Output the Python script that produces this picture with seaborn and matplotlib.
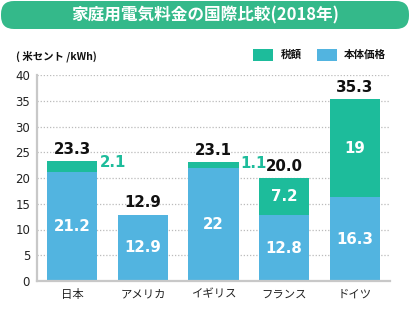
import matplotlib
matplotlib.use("Agg")
import matplotlib.pyplot as plt
import seaborn as sns
import pandas as pd
from matplotlib.patches import FancyBboxPatch, Rectangle
from matplotlib.transforms import IdentityTransform

# ---- data ----
countries = ["日本", "アメリカ", "イギリス", "フランス", "ドイツ"]
base_price = [21.2, 12.9, 22.0, 12.8, 16.3]
tax = [2.1, 0.0, 1.1, 7.2, 19.0]
total_labels = ["23.3", "12.9", "23.1", "20.0", "35.3"]
base_labels = ["21.2", "12.9", "22", "12.8", "16.3"]
tax_labels = ["2.1", "", "1.1", "7.2", "19"]
tax_outside = [True, False, True, False, False]
yticks = [0, 5, 10, 15, 20, 25, 30, 35, 40]
legend_labels = ["税額", "本体価格"]

GREEN = "#1DBC9B"
BLUE = "#52B4E0"
BANNER = "#34B98A"
FONT = ["Noto Sans CJK JP", "DejaVu Sans"]
NUMFONT = ["DejaVu Sans"]

sns.set_theme(style="white")
plt.rcParams["font.family"] = FONT

totals = [b + t for b, t in zip(base_price, tax)]
df = pd.DataFrame({"country": countries, "base": base_price, "total": totals})

fig = plt.figure(figsize=(4.10, 3.22), dpi=100)
W, H = 410, 322
ax = fig.add_axes([37 / W, (H - 281) / H, (390 - 37) / W, (281 - 75) / H])

sns.barplot(data=df, x="country", y="total", color=GREEN, width=0.71,
            saturation=1, ax=ax, edgecolor="none")
sns.barplot(data=df, x="country", y="base", color=BLUE, width=0.71,
            saturation=1, ax=ax, edgecolor="none")

ax.set_ylim(0, 40)
ax.set_xlim(-0.5, 4.5)
ax.set_yticks(yticks)
ax.set_xlabel("")
ax.set_ylabel("")
ax.yaxis.grid(True, linestyle=(0, (1, 1.5)), color="#BBBBBB", linewidth=0.9)
ax.set_axisbelow(True)
for s in ["top", "right"]:
    ax.spines[s].set_visible(False)
for s in ["left", "bottom"]:
    ax.spines[s].set_color("#C8C8C8")
    ax.spines[s].set_linewidth(1.6)
ax.tick_params(axis="y", length=0, pad=5, labelsize=8.5, colors="#222222")
for lab in ax.get_yticklabels():
    lab.set_family(NUMFONT)
ax.tick_params(axis="x", length=0, pad=6, labelsize=8.2, colors="#222222")
ax.set_xticks([0.5, 1.5, 2.5, 3.5, 4.5], minor=True)
ax.tick_params(axis="x", which="minor", direction="in", length=4,
               width=1.2, color="#C8C8C8")

for i in range(len(countries)):
    ax.annotate(total_labels[i], (i, totals[i]), xytext=(0, 3),
                textcoords="offset points", ha="center", va="bottom",
                fontsize=10.8, fontweight="bold", color="#111111",
                family=NUMFONT)
    ax.text(i, base_price[i] / 2, base_labels[i], ha="center", va="center",
            fontsize=10.8, fontweight="bold", color="white", family=NUMFONT)
    if tax_labels[i]:
        if tax_outside[i]:
            ax.annotate(tax_labels[i], (i + 0.355, totals[i] - 0.2),
                        xytext=(1.5, 0), textcoords="offset points",
                        ha="left", va="center", fontsize=10.8,
                        fontweight="bold", color=GREEN, family=NUMFONT)
        else:
            ax.text(i, base_price[i] + tax[i] / 2, tax_labels[i],
                    ha="center", va="center", fontsize=10.8,
                    fontweight="bold", color="white", family=NUMFONT)

# title banner (pill shape, drawn in figure pixels)
banner = FancyBboxPatch((1, H - 29), W - 2, 28,
                        boxstyle="round,pad=0,rounding_size=13",
                        transform=IdentityTransform(), facecolor=BANNER,
                        edgecolor="none")
fig.add_artist(banner)
fig.text(0.5, (H - 15) / H, "家庭用電気料金の国際比較(2018年)", ha="center",
         va="center", color="white", fontsize=12, fontweight="bold")

# unit label
fig.text(16 / W, (H - 56) / H, "( 米セント /kWh)", ha="left", va="center",
         fontsize=7.5, fontweight="bold", color="#111111")

# legend (drawn manually in figure pixels)
for (x0, txt_x), col, lab in zip([(253, 281), (317, 344)], [GREEN, BLUE],
                                 legend_labels):
    fig.add_artist(Rectangle((x0 / W, (H - 61) / H), 20 / W, 12 / H,
                             transform=fig.transFigure, facecolor=col,
                             edgecolor="none"))
    fig.text(txt_x / W, (H - 55) / H, lab, ha="left", va="center",
             fontsize=7.6, fontweight="bold", color="#111111")

fig.savefig("out.png", dpi=100)
